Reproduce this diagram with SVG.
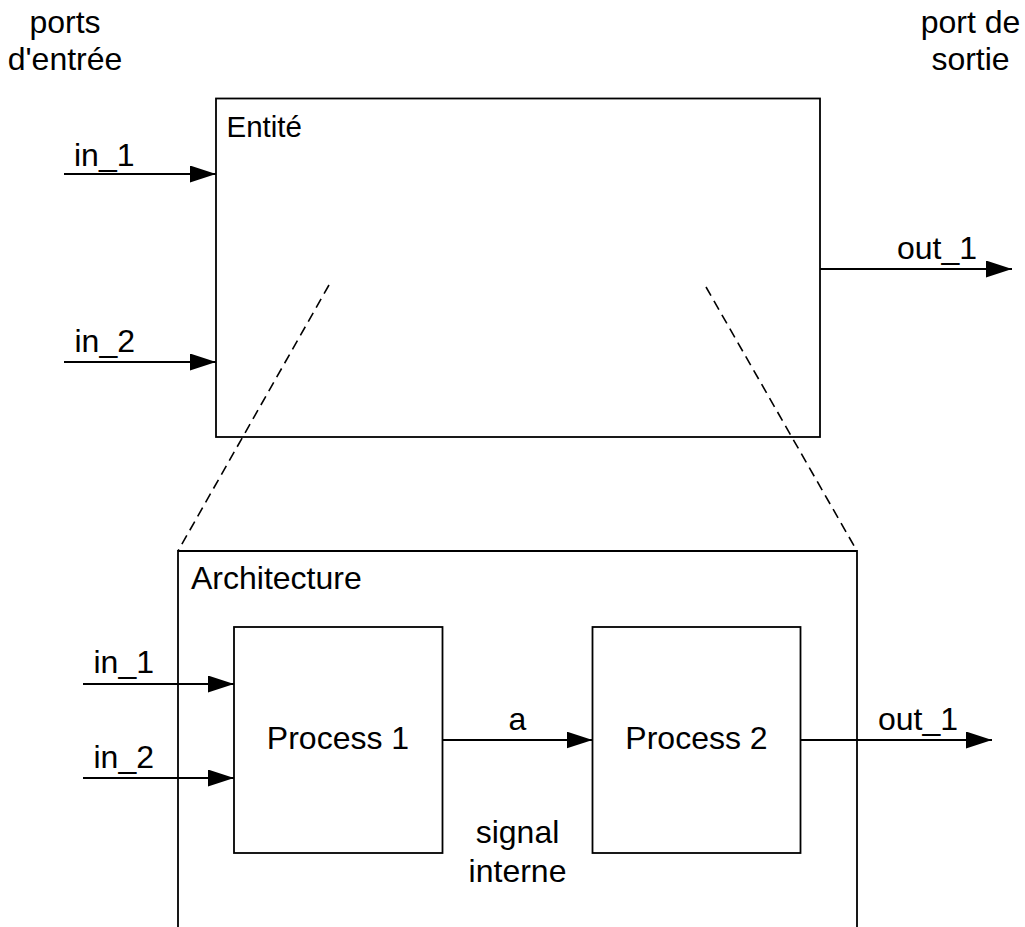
<svg xmlns="http://www.w3.org/2000/svg" width="1025" height="927" viewBox="0 0 1025 927">
<style>
  text { font-family: "Liberation Sans", Arial, sans-serif; font-size: 32px; fill: #000; }
  .box { fill: none; stroke: #000; stroke-width: 1.8; }
  .wire { fill: none; stroke: #000; stroke-width: 1.8; }
  .dash { fill: none; stroke: #000; stroke-width: 1.6; stroke-dasharray: 10 6; }
  .mid { text-anchor: middle; }
</style>
<defs>
  <marker id="arrow" markerWidth="26" markerHeight="17" refX="26" refY="8.5" orient="auto" markerUnits="userSpaceOnUse">
    <path d="M0,0 L26,8.5 L0,17 Z" fill="#000"/>
  </marker>
</defs>
<rect width="1025" height="927" fill="#fff"/>

<g id="labels">
  <text class="mid" x="65" y="33">ports</text>
  <text class="mid" x="65" y="70">d'entrée</text>
  <text class="mid" x="970.5" y="33">port de</text>
  <text class="mid" x="970.5" y="70">sortie</text>
</g>

<g id="entite">
  <rect class="box" x="216" y="98.5" width="604" height="338.5"/>
  <text x="226.5" y="137" style="font-size:29.5px">Entité</text>
</g>

<g id="architecture">
  <path class="box" d="M178,927 L178,551 L857,551 L857,927"/>
  <text x="191" y="589">Architecture</text>
</g>

<g id="process1">
  <rect class="box" x="234" y="627" width="208.5" height="226"/>
  <text class="mid" x="338" y="749">Process 1</text>
</g>

<g id="process2">
  <rect class="box" x="592.5" y="627" width="208" height="226"/>
  <text class="mid" x="696.5" y="749">Process 2</text>
</g>

<g id="connectors">
  <line class="wire" x1="64" y1="174" x2="216" y2="174" marker-end="url(#arrow)"/>
  <line class="wire" x1="64" y1="362" x2="216" y2="362" marker-end="url(#arrow)"/>
  <line class="wire" x1="820" y1="269" x2="1012" y2="269" marker-end="url(#arrow)"/>
  <line class="dash" x1="329" y1="285" x2="178" y2="551"/>
  <line class="dash" x1="706" y1="287" x2="857" y2="551"/>
  <line class="wire" x1="83" y1="684" x2="234" y2="684" marker-end="url(#arrow)"/>
  <line class="wire" x1="83" y1="778" x2="234" y2="778" marker-end="url(#arrow)"/>
  <line class="wire" x1="442.5" y1="740" x2="592.5" y2="740" marker-end="url(#arrow)"/>
  <line class="wire" x1="800.5" y1="740" x2="992" y2="740" marker-end="url(#arrow)"/>
</g>

<g id="connector-labels">
  <text x="74" y="166">in_1</text>
  <text x="74.5" y="352">in_2</text>
  <text x="897" y="259">out_1</text>
  <text x="93.5" y="673">in_1</text>
  <text x="93.5" y="768">in_2</text>
  <text class="mid" x="517.5" y="730">a</text>
  <text class="mid" x="517.5" y="843">signal</text>
  <text class="mid" x="517.5" y="882">interne</text>
  <text x="878" y="730">out_1</text>
</g>
</svg>
